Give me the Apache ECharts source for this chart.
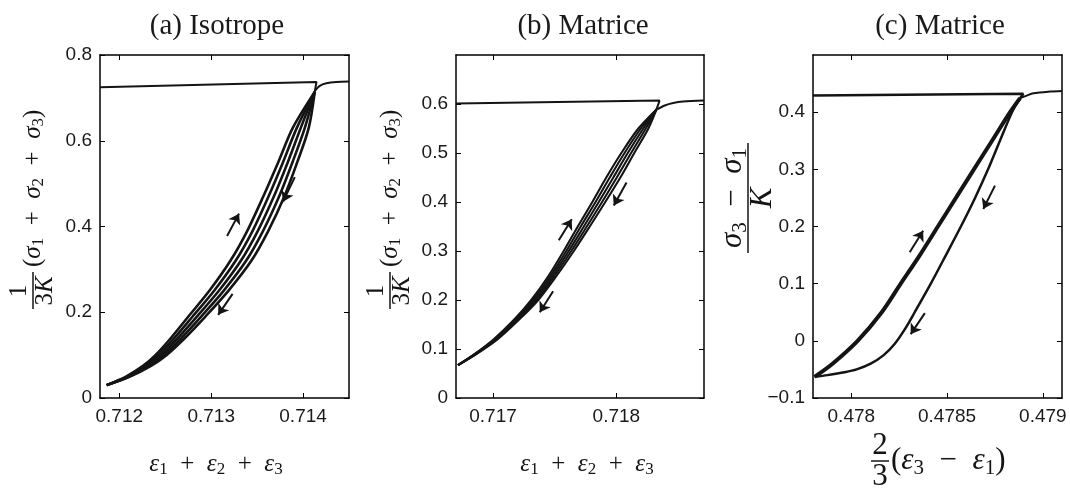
<!DOCTYPE html>
<html><head><meta charset="utf-8">
<script src="https://cdn.jsdelivr.net/npm/echarts/dist/echarts.min.js"></script>
<style>html,body{margin:0;padding:0;background:#fff}#c{width:1070px;height:493px}</style>
</head><body><div id="c"></div><script>
// ---------- axes ----------
const xRangeA = [0.71179, 0.7145], yRangeA = [0, 0.8];
const xRangeB = [0.7167, 0.71871], yRangeB = [0, 0.7];
const xRangeC = [0.4778, 0.4791], yRangeC = [-0.1, 0.5];
const xTicksA = [0.712, 0.713, 0.714];
const yTicksA = [0, 0.2, 0.4, 0.6, 0.8];
const xTicksB = [0.717, 0.718];
const yTicksB = [0, 0.1, 0.2, 0.3, 0.4, 0.5, 0.6];
const xTicksC = [0.478, 0.4785, 0.479];
const yTicksC = [-0.1, 0, 0.1, 0.2, 0.3, 0.4];
const titles = ['(a) Isotrope', '(b) Matrice', '(c) Matrice'];

// ---------- panel (a) ----------
const yLevelsA = [0.03, 0.05, 0.075, 0.10, 0.14, 0.19, 0.25, 0.32, 0.39, 0.47, 0.55, 0.63, 0.714];
const loadA1 = [0.711863, 0.712073, 0.712258, 0.712393, 0.712562, 0.712752, 0.712980, 0.713209, 0.713393, 0.713567, 0.713730, 0.713888, 0.714127];
const loadA2 = [0.711863, 0.712084, 0.712279, 0.712423, 0.712600, 0.712798, 0.713032, 0.713266, 0.713451, 0.713624, 0.713782, 0.713932, 0.714127];
const loadA3 = [0.711863, 0.712095, 0.712301, 0.712453, 0.712638, 0.712845, 0.713084, 0.713323, 0.713508, 0.713682, 0.713834, 0.713975, 0.714127];
const unloadA1 = [0.711863, 0.712105, 0.712323, 0.712483, 0.712676, 0.712891, 0.713135, 0.713380, 0.713565, 0.713739, 0.713885, 0.714019, 0.714127];
const unloadA2 = [0.711863, 0.712116, 0.712345, 0.712513, 0.712714, 0.712937, 0.713187, 0.713437, 0.713622, 0.713796, 0.713937, 0.714062, 0.714127];
const topAX = [0.71179, 0.714146, 0.714127];
const topAY = [0.725, 0.737, 0.714];
const exitAX = [0.714127, 0.714181, 0.714254, 0.714363, 0.7145];
const exitAY = [0.716, 0.728, 0.734, 0.737, 0.738];
const arrowsA = [[0.713173, 0.378, 0.713303, 0.430], [0.713910, 0.515, 0.713783, 0.458], [0.713233, 0.243, 0.713076, 0.194]];

// ---------- panel (b) ----------
const yLevelsB = [0.067, 0.09, 0.12, 0.16, 0.20, 0.25, 0.30, 0.35, 0.40, 0.45, 0.50, 0.55, 0.589];
const loadB1 = [0.716716, 0.716852, 0.717006, 0.717172, 0.717310, 0.717452, 0.717573, 0.717687, 0.717805, 0.717918, 0.718040, 0.718178, 0.718325];
const loadB2 = [0.716716, 0.716856, 0.717014, 0.717182, 0.717324, 0.717468, 0.717594, 0.717711, 0.717831, 0.717946, 0.718066, 0.718198, 0.718325];
const loadB3 = [0.716716, 0.716860, 0.717022, 0.717192, 0.717338, 0.717484, 0.717614, 0.717736, 0.717857, 0.717975, 0.718092, 0.718218, 0.718325];
const unloadB1 = [0.716716, 0.716864, 0.717030, 0.717202, 0.717352, 0.717500, 0.717634, 0.717760, 0.717884, 0.718003, 0.718119, 0.718238, 0.718325];
const unloadB2 = [0.716716, 0.716868, 0.717038, 0.717212, 0.717367, 0.717517, 0.717655, 0.717784, 0.717910, 0.718032, 0.718145, 0.718259, 0.718325];
const topBX = [0.7167, 0.718350, 0.718325];
const topBY = [0.601, 0.607, 0.589];
const exitBX = [0.718330, 0.718392, 0.718460, 0.718540, 0.71871];
const exitBY = [0.589, 0.597, 0.602, 0.605, 0.607];
const arrowsB = [[0.717533, 0.322, 0.717638, 0.365], [0.718082, 0.440, 0.717979, 0.393], [0.717487, 0.218, 0.717379, 0.175]];

// ---------- panel (c) ----------
const yLoadC = [-0.063, -0.04, 0.0, 0.05, 0.1, 0.15, 0.2, 0.25, 0.3, 0.35, 0.4, 0.4245];
const xLoadC = [0.477808, 0.477902, 0.478033, 0.478159, 0.478258, 0.478358, 0.478452, 0.478546, 0.478640, 0.478735, 0.478829, 0.478881];
const yUnloadC = [-0.063, -0.06, -0.055, -0.05, -0.04, -0.025, -0.005, 0.02, 0.05, 0.1, 0.15, 0.2, 0.25, 0.3, 0.35, 0.4, 0.4245];
const xUnloadC = [0.477808, 0.477876, 0.477965, 0.478028, 0.478101, 0.478169, 0.478227, 0.478279, 0.478331, 0.478415, 0.478494, 0.478572, 0.478646, 0.478714, 0.478776, 0.478839, 0.478881];
const topCX = [0.4778, 0.478898, 0.478881];
const topCY = [0.429, 0.432, 0.4245];
const exitCX = [0.478881, 0.478916, 0.478951, 0.479038, 0.4791];
const exitCY = [0.4245, 0.429, 0.433, 0.436, 0.437];
const arrowsC = [[0.478305, 0.1548, 0.478375, 0.1926], [0.478750, 0.2715, 0.478689, 0.2307], [0.478384, 0.0485, 0.478310, 0.0117]];

// ---------- build ----------
const INK = '#141414';
const pairs = (xs, ys) => xs.map((x, i) => [x, ys[i]]);
const fmt = v => String(v).replace('-', '\u2212');

const grids = [
  {left: 100, top: 55, width: 249, height: 343},
  {left: 456, top: 55, width: 248, height: 343},
  {left: 813, top: 55, width: 249, height: 343}
];
const xr = [xRangeA, xRangeB, xRangeC], yr = [yRangeA, yRangeB, yRangeC];
const xt = [xTicksA, xTicksB, xTicksC], yt = [yTicksA, yTicksB, yTicksC];
const xAxes = [], yAxes = [];
for (let i = 0; i < 3; i++) {
  for (const pos of ['bottom', 'top']) {
    xAxes.push({
      gridIndex: i, type: 'value', position: pos, min: xr[i][0], max: xr[i][1],
      axisLine: {show: true, onZero: false, lineStyle: {color: '#000', width: 1.5}},
      axisTick: {show: true, inside: true, length: 5, customValues: xt[i], lineStyle: {color: '#000', width: 1}},
      axisLabel: {show: pos === 'bottom', customValues: xt[i], formatter: fmt, color: '#1a1a1a',
                  fontFamily: 'Liberation Sans', fontSize: 19, margin: 9},
      splitLine: {show: false}
    });
  }
  for (const pos of ['left', 'right']) {
    yAxes.push({
      gridIndex: i, type: 'value', position: pos, min: yr[i][0], max: yr[i][1],
      axisLine: {show: true, onZero: false, lineStyle: {color: '#000', width: 1.5}},
      axisTick: {show: true, inside: true, length: 5, customValues: yt[i], lineStyle: {color: '#000', width: 1}},
      axisLabel: {show: pos === 'left', customValues: yt[i], formatter: fmt, color: '#1a1a1a',
                  fontFamily: 'Liberation Sans', fontSize: 19, margin: 8},
      splitLine: {show: false}
    });
  }
}

const series = [];
function addLine(panel, xs, ys, width) {
  series.push({type: 'line', xAxisIndex: 2 * panel, yAxisIndex: 2 * panel, data: pairs(xs, ys),
    showSymbol: false, symbol: 'none', smooth: 0.3, silent: true, animation: false,
    lineStyle: {color: INK, width: width}});
}
function addArrows(panel, arr) {
  series.push({type: 'lines', coordinateSystem: 'cartesian2d', xAxisIndex: 2 * panel, yAxisIndex: 2 * panel,
    data: arr.map(a => ({coords: [[a[0], a[1]], [a[2], a[3]]]})),
    symbol: ['none', 'arrow'], symbolSize: 10, silent: true, animation: false, z: 5,
    lineStyle: {color: INK, width: 2, opacity: 1, curveness: 0}});
}
[loadA1, loadA2, loadA3, unloadA1, unloadA2].forEach(xs => addLine(0, xs, yLevelsA, 2.6));
addLine(0, topAX, topAY, 2);
addLine(0, exitAX, exitAY, 2);
addArrows(0, arrowsA);
[loadB1, loadB2, loadB3, unloadB1, unloadB2].forEach(xs => addLine(1, xs, yLevelsB, 2.1));
addLine(1, topBX, topBY, 2);
addLine(1, exitBX, exitBY, 2);
addArrows(1, arrowsB);
addLine(2, xLoadC, yLoadC, 4);
addLine(2, xUnloadC, yUnloadC, 2.5);
addLine(2, topCX, topCY, 2.5);
addLine(2, exitCX, exitCY, 2);
addArrows(2, arrowsC);

// ---------- math labels ----------
function rich(sz) {
  const sub = Math.round(sz * 0.68);
  return {
    it: {fontFamily: 'Liberation Serif', fontStyle: 'italic', fontSize: sz, fill: INK},
    rm: {fontFamily: 'Liberation Serif', fontSize: sz, fill: INK},
    sub: {fontFamily: 'Liberation Serif', fontSize: sub, padding: [Math.round(sz * 0.48), 0, 0, 0], fill: INK}
  };
}
const PLUS = '{rm|\u2002+\u2002}', MINUS = '{rm|\u2002\u2212\u2002}';
function txt(x, y, text, sz, align) {
  return {type: 'text', x: x, y: y, silent: true,
    style: {text: text, rich: rich(sz), align: align || 'center', verticalAlign: 'middle',
            textAlign: align || 'center', textVerticalAlign: 'middle', fill: INK}};
}
function bar(x1, y1, x2, y2) {
  return {type: 'line', silent: true, shape: {x1: x1, y1: y1, x2: x2, y2: y2}, style: {stroke: INK, lineWidth: 1.5}};
}
const sigmaSum = '{rm|(}{it|σ}{sub|1}' + PLUS + '{it|σ}{sub|2}' + PLUS + '{it|σ}{sub|3}{rm|)}';
const epsSum = '{it|ε}{sub|1}' + PLUS + '{it|ε}{sub|2}' + PLUS + '{it|ε}{sub|3}';
function yLabelSum(X0) {
  return {type: 'group', x: X0, y: 312, rotation: Math.PI / 2, children: [
    txt(21, -14, '{rm|1}', 25),
    bar(3, 0, 40, 0),
    txt(21, 12, '{rm|3}{it|K}', 25),
    txt(45, 0, sigmaSum, 25, 'left')
  ]};
}
const graphic = [
  yLabelSum(33),
  yLabelSum(390),
  {type: 'group', x: 748, y: 198, rotation: Math.PI / 2, children: [
    txt(0, -15, '{it|σ}{sub|3}' + MINUS + '{it|σ}{sub|1}', 31),
    bar(-55, 0, 55, 0),
    txt(0, 15, '{it|K}', 31)
  ]},
  txt(216, 464, epsSum, 25),
  txt(587, 464, epsSum, 25),
  txt(880, 446, '{rm|2}', 31),
  bar(871, 461, 889, 461),
  txt(880, 477, '{rm|3}', 31),
  txt(891, 461, '{rm|(}{it|ε}{sub|3}' + MINUS + '{it|ε}{sub|1}{rm|)}', 31, 'left')
];

const titleCenters = [212, 578, 935];
const title = titles.map((t, i) => ({text: t, left: titleCenters[i], top: 7, textAlign: 'center',
  textStyle: {fontFamily: 'Liberation Serif', fontWeight: 'normal', fontSize: 29, color: '#1a1a1a'}}));

const chart = echarts.init(document.getElementById('c'), null, {renderer: 'canvas'});
chart.setOption({animation: false, backgroundColor: '#fff', title: title, grid: grids,
  xAxis: xAxes, yAxis: yAxes, series: series, graphic: graphic});
</script></body></html>
